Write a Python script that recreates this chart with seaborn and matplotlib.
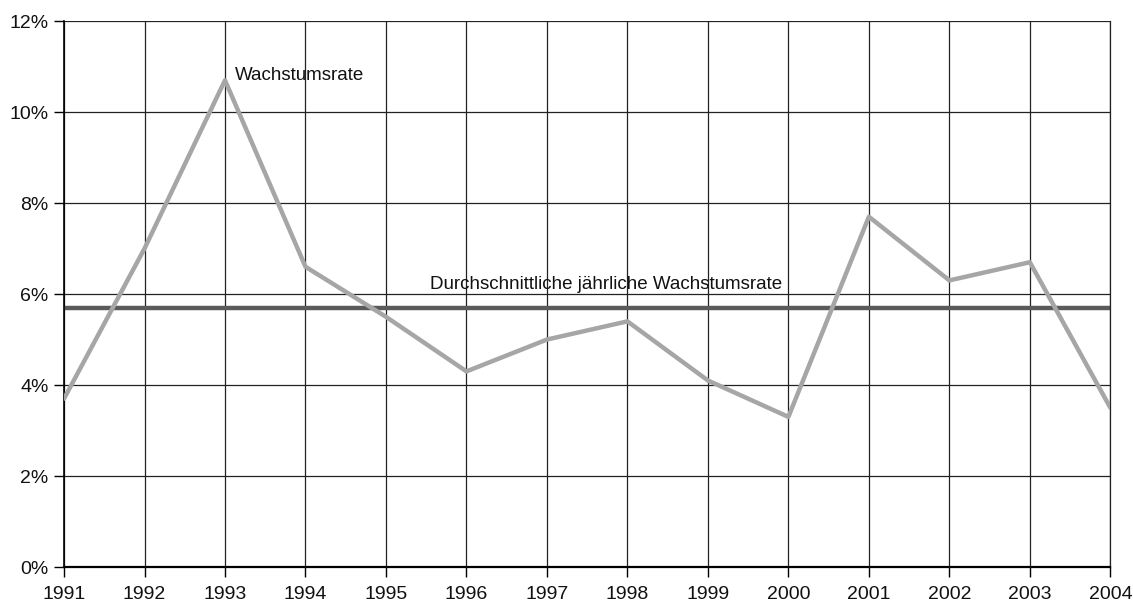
import matplotlib
matplotlib.use("Agg")
import matplotlib.pyplot as plt
import seaborn as sns
import pandas as pd
from matplotlib.ticker import FuncFormatter

years = [1991, 1992, 1993, 1994, 1995, 1996, 1997, 1998, 1999, 2000, 2001, 2002, 2003, 2004]
growth = [3.7, 7.0, 10.7, 6.6, 5.5, 4.3, 5.0, 5.4, 4.1, 3.3, 7.7, 6.3, 6.7, 3.5]
average = 5.7
y_ticks = [0, 2, 4, 6, 8, 10, 12]
label_series = "Wachstumsrate"
label_avg = "Durchschnittliche jährliche Wachstumsrate"

sns.set_theme(style="white")
plt.rcParams['font.family'] = ['Liberation Sans', 'DejaVu Sans']

df = pd.DataFrame({"Jahr": years, "Rate": growth})

fig = plt.figure(figsize=(11.33, 6.03), dpi=100)
ax = fig.add_axes([0.0565, 0.0597, 0.9235, 0.9053])

ax.grid(True, color="#222222", linewidth=0.9)
ax.set_axisbelow(True)

ax.axhline(average, color="#5a5a5a", linewidth=3.2, zorder=2)
sns.lineplot(data=df, x="Jahr", y="Rate", color="#a6a6a6", linewidth=3.2, ax=ax, zorder=3)

ax.set_xlim(years[0], years[-1])
ax.set_ylim(0, 12)
ax.set_xticks(years)
ax.set_yticks(y_ticks)
ax.yaxis.set_major_formatter(FuncFormatter(lambda v, p: f"{int(v)}%"))
ax.set_xlabel("")
ax.set_ylabel("")

ax.spines["top"].set_visible(False)
ax.spines["right"].set_visible(True)
ax.spines["right"].set_color("#222222")
ax.spines["right"].set_linewidth(0.9)
ax.spines["left"].set_color("black")
ax.spines["left"].set_linewidth(1.2)
ax.spines["bottom"].set_color("black")
ax.spines["bottom"].set_linewidth(1.6)

ax.tick_params(axis="y", which="major", left=True, length=7, width=1, color="black", labelsize=14, pad=4, labelcolor="#111111")
ax.tick_params(axis="x", which="major", bottom=True, length=7, width=1, color="black", labelsize=14, pad=7, labelcolor="#111111")

ax.text(1993.12, 10.8, label_series, fontsize=13.5, color="#111111", va="center", ha="left")
ax.text(1995.55, 6.22, label_avg, fontsize=13.5, color="#111111", va="center", ha="left")

fig.savefig("out.png", dpi=100)
